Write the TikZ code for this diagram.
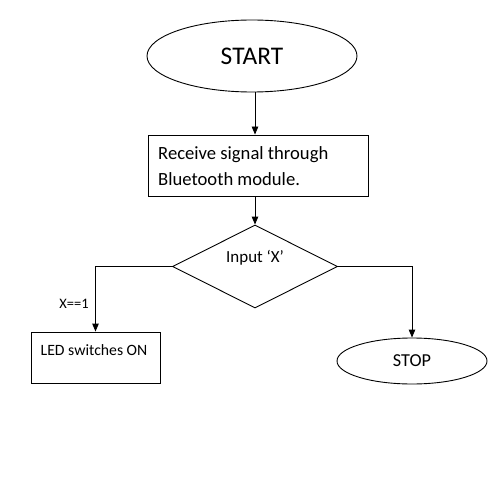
\documentclass[tikz,border=0pt]{standalone}
\usepackage{fontspec}
\setmainfont{Carlito}
\usetikzlibrary{shapes.geometric,arrows.meta}
\tikzset{
  line/.style={draw=black, line width=0.9bp},
  arr/.style={line, -{Triangle[width=6.5bp,length=8bp]}},
  oval/.style={ellipse, line, inner sep=0pt},
  boxnode/.style={rectangle, line, inner sep=0pt},
  txt/.style={inner sep=0pt},
}
\begin{document}
\begin{tikzpicture}[x=1bp,y=-1bp]
\useasboundingbox[fill=white] (0,0) rectangle (498,498);
% START
\node[oval, minimum width=210bp, minimum height=72bp, font=\fontsize{25.5}{30}\selectfont] (start) at (252,56) {START};
% Receive box
\node[boxnode, minimum width=220bp, minimum height=61bp] (recv) at (258,165.5) {};
\node[txt, anchor=north west, align=left, font=\fontsize{18.7}{26}\selectfont] (recvt) at (158,146.5) {Receive signal through\\Bluetooth module.};
% Diamond
\node[diamond, line, inner sep=0pt, minimum width=165bp, minimum height=83bp] (dia) at (255,266.5) {};
\node[txt, font=\fontsize{17}{20}\selectfont] (diat) at (255,258) {Input ‘X’};
% LED box
\node[boxnode, minimum width=129bp, minimum height=51bp] (led) at (95.5,357.5) {};
\node[txt, anchor=base west, font=\fontsize{15.8}{18}\selectfont] (ledt) at (40.5,355) {LED switches ON};
% STOP
\node[oval, minimum width=150bp, minimum height=46bp, font=\fontsize{18.3}{22}\selectfont] (stop) at (412,361) {STOP};
% label
\node[txt, anchor=base, font=\fontsize{14.5}{17}\selectfont] (lbl) at (74,308) {X==1};
% connectors
\draw[arr] (start.south -| dia.north) -- (recv.north -| dia.north);
\draw[arr] (recv.south -| dia.north) -- (dia.north);
\draw[arr] (dia.west) -| (led.north);
\draw[arr] (dia.east) -| (stop.north);
\end{tikzpicture}
\end{document}
